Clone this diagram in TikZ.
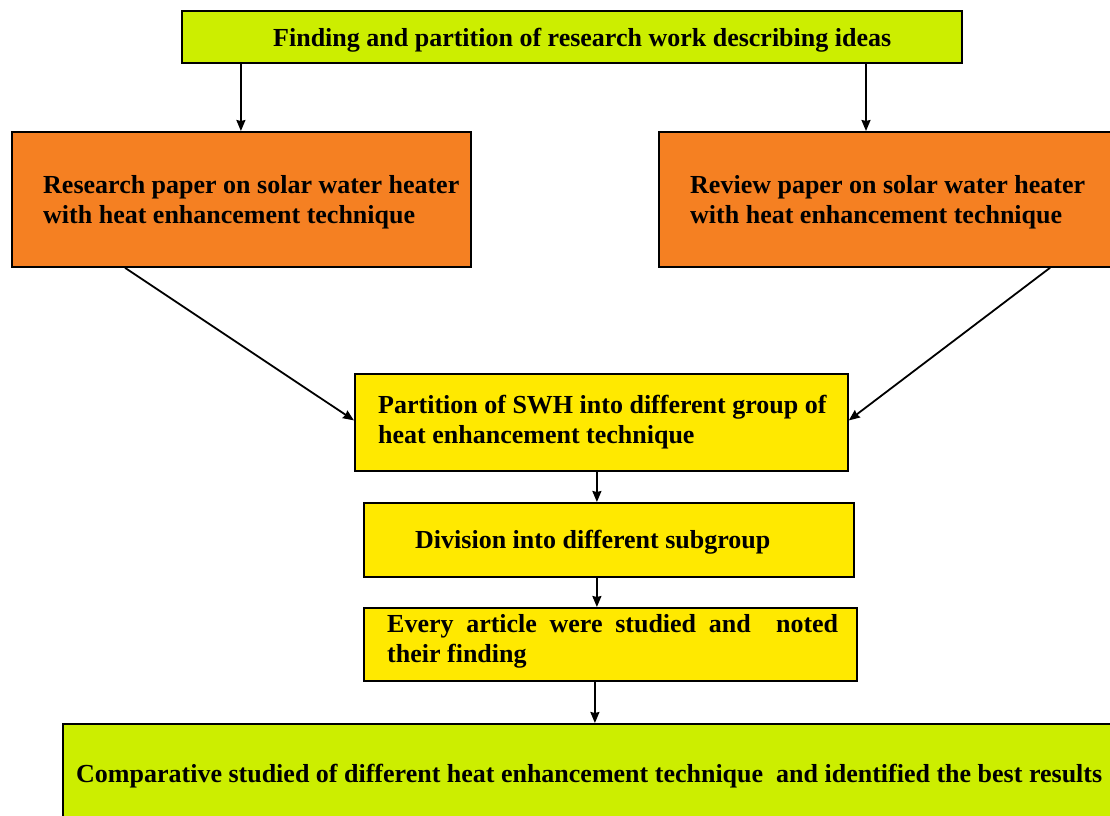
\documentclass[tikz,border=0pt]{standalone}
\usepackage{fontspec}
\setmainfont{Liberation Serif}
\usepackage{graphicx}
\usetikzlibrary{arrows.meta}
\definecolor{limeg}{RGB}{204,238,0}
\definecolor{orng}{RGB}{245,128,34}
\definecolor{yel}{RGB}{255,233,0}
\tikzset{
  box/.style={draw=black, line width=1.8pt, rectangle, inner sep=0pt, anchor=north west},
  txt/.style={inner sep=0pt, font=\fontsize{26}{30}\selectfont\bfseries, align=left},
  arr/.style={draw=black, line width=1.8pt, -{Stealth[length=11pt,width=9pt,inset=1pt]}}
}
\begin{document}
\begin{tikzpicture}[x=1pt,y=-1pt]
\useasboundingbox (0,0) rectangle (1110,815);
% boxes
\node[box, fill=limeg, minimum width=780pt, minimum height=52pt] (top) at (181,10) {};
\node[box, fill=orng, minimum width=459pt, minimum height=135pt] (L) at (11,131) {};
\node[box, fill=orng, minimum width=460pt, minimum height=135pt] (R) at (658,131) {};
\node[box, fill=yel, minimum width=493pt, minimum height=97pt] (P) at (354,373) {};
\node[box, fill=yel, minimum width=490pt, minimum height=74pt] (D) at (363,502) {};
\node[box, fill=yel, minimum width=493pt, minimum height=73pt] (E) at (363,607) {};
\node[box, fill=limeg, minimum width=1070pt, minimum height=110pt] (B) at (62,723) {};
% texts
\node[txt, anchor=base west] (ttop) at (273,46) {\resizebox{618pt}{\height}{Finding and partition of research work describing ideas}};
\node[txt, anchor=base west] (tL) at (43,223) {Research paper on solar water heater\\with heat enhancement technique};
\node[txt, anchor=base west] (tR) at (690,223) {Review paper on solar water heater\\with heat enhancement technique};
\node[txt, anchor=base west] (tP) at (378,443) {Partition of SWH into different group of\\heat enhancement technique};
\node[txt, anchor=base west] (tD) at (415,548) {Division into different subgroup};
\node[txt, anchor=base west, text width=451pt, align=justify] (tE) at (387,632) {Every article were studied and\ \ noted their finding};
\node[txt, anchor=base west] (tB) at (76,782) {\resizebox{1026pt}{\height}{Comparative studied of different heat enhancement technique\ \ and identified the best results}};
% connectors
\coordinate (c1) at ([xshift=-0.5pt]L.north);
\draw[arr] (c1 |- top.south) -- (c1);
\coordinate (c2) at ([xshift=208pt]R.north west);
\draw[arr] (c2 |- top.south) -- (c2);
\coordinate (c3) at ([xshift=114pt]L.south west);
\draw[arr] (c3) -- ([yshift=2pt]P.west);
\coordinate (c4) at ([xshift=392pt]R.south west);
\draw[arr] (c4) -- ([yshift=2pt]P.east);
\coordinate (c5) at ([xshift=-4.5pt]P.south);
\draw[arr] (c5) -- (c5 |- D.north);
\coordinate (c6) at ([xshift=-12pt]D.south);
\draw[arr] (c6) -- (c6 |- E.north);
\coordinate (c7) at ([xshift=-15.5pt]E.south);
\draw[arr] (c7) -- (c7 |- B.north);
\end{tikzpicture}
\end{document}
